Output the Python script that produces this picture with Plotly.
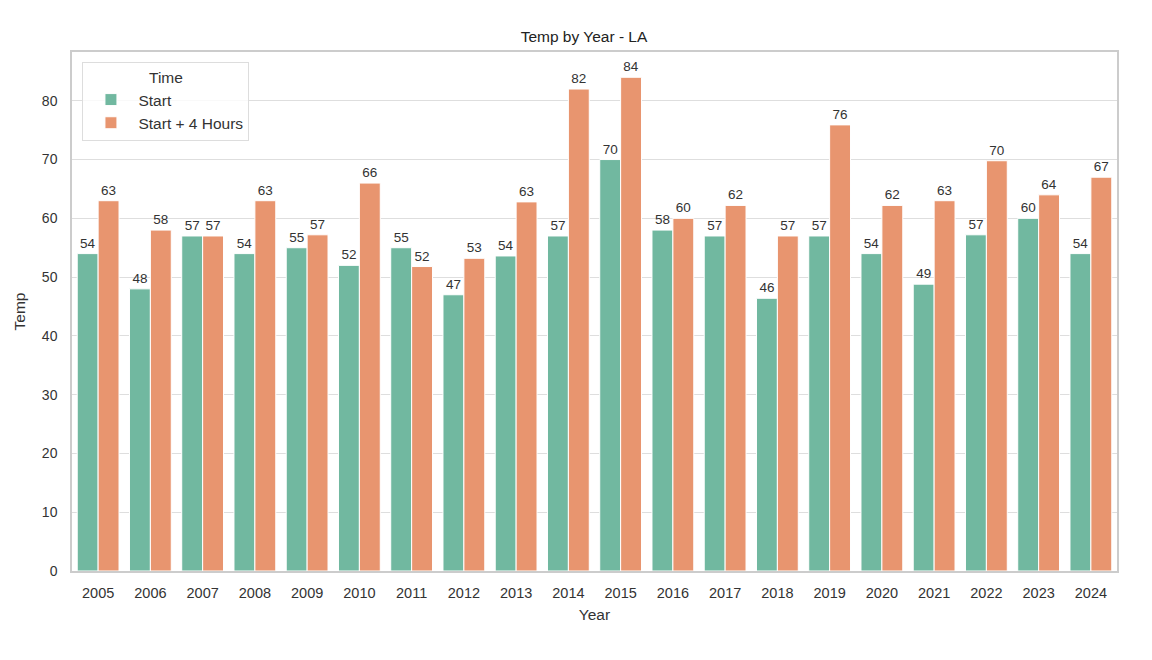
import plotly.graph_objects as go

# data
years = [str(y) for y in range(2005, 2025)]
start_temp = [54, 48, 57, 54, 55, 52, 55, 47, 53.6, 57,
              70, 58, 57, 46.4, 57, 54, 48.8, 57.2, 60, 54]
plus4_temp = [63, 58, 57, 63, 57.2, 66, 51.8, 53.2, 62.8, 82,
              84, 60, 62.2, 57, 75.9, 62.2, 63, 69.8, 64, 67]
series_names = ["Start", "Start + 4 Hours"]
colors = ["#71b8a0", "#e8956f"]

FONT = "Liberation Sans, Arial, sans-serif"

fig = go.Figure()
for name, vals, col in zip(series_names, [start_temp, plus4_temp], colors):
    fig.add_trace(go.Bar(
        x=years, y=vals, name=name,
        marker=dict(color=col, line=dict(color="white", width=1)),
        texttemplate="%{y:.0f}", textposition="outside",
        textfont=dict(size=13.5, color="#333333"),
        cliponaxis=False,
    ))

fig.update_layout(
    width=1152, height=660,
    barmode="group", bargap=0.2, bargroupgap=0,
    paper_bgcolor="white", plot_bgcolor="white",
    font=dict(family=FONT, size=14, color="#333333"),
    margin=dict(l=64, r=43, t=44, b=97),
    title=dict(text="Temp by Year - LA", x=0.5, xanchor="center",
               y=0.956, yanchor="middle", font=dict(size=15.5, color="#222222")),
    legend=dict(
        title=dict(text="Time", side="top center", font=dict(size=15.5)),
        x=0.01, y=0.981, xanchor="left", yanchor="top",
        bgcolor="rgba(255,255,255,0.8)", bordercolor="#dddddd", borderwidth=1,
        font=dict(size=15.5), itemwidth=45,
    ),
    xaxis=dict(
        title=dict(text="Year", standoff=9, font=dict(size=15.5)),
        showgrid=False, showline=True, mirror=True, linecolor="#cccccc",
        linewidth=1.5, ticks="", tickfont=dict(size=14.5), ticklabelstandoff=8,
    ),
    yaxis=dict(
        title=dict(text="Temp", standoff=12, font=dict(size=15.5)),
        range=[0, 88.3], dtick=10, showgrid=True, gridcolor="#dedede",
        showline=True, mirror=True, linecolor="#cccccc", linewidth=1.5,
        zeroline=False, ticks="", tickfont=dict(size=14), ticklabelstandoff=10,
    ),
)

fig.write_html("out.html")
